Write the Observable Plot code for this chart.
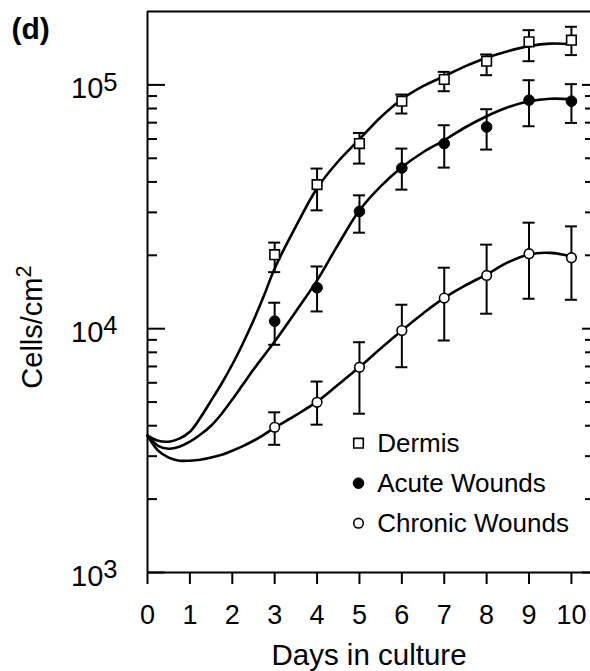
<!DOCTYPE html>
<html>
<head>
<meta charset="utf-8">
<script src="https://cdn.jsdelivr.net/npm/d3@7"></script>
<script src="https://cdn.jsdelivr.net/npm/@observablehq/plot@0.6"></script>
<style>
  html, body { margin: 0; padding: 0; background: #fff; }
  #chart svg { display: block; }
</style>
</head>
<body>
<div id="chart"></div>
<script>
// ---------- data ----------
const days = [3, 4, 5, 6, 7, 8, 9, 10];

const dermisMean = [20120, 38990, 57440, 85740, 105240, 125100, 150200, 152600];
const dermisLo   = [17060, 30580, 47560, 76300, 94200, 109600, 125100, 132500];
const dermisHi   = [22550, 45370, 63510, 91300, 113100, 133300, 167700, 173100];

const acuteMean = [10740, 14720, 30280, 45610, 57440, 67220, 86560, 85740];
const acuteLo   = [8590, 11770, 24760, 37190, 45790, 54290, 67670, 69820];
const acuteHi   = [12780, 18000, 35240, 54800, 68310, 79480, 104500, 100700];

const chronicMean = [3940, 4990, 6950, 9830, 13350, 16540, 20310, 19550];
const chronicLo   = [3340, 4040, 4480, 6950, 8945, 11520, 13270, 13140];
const chronicHi   = [4540, 6070, 8800, 12540, 17790, 22120, 27220, 26280];

// fitted curves
const curveDays = [0, 0.25, 0.5, 0.75, 1, 1.25, 1.5, 1.75, 2, 2.25, 2.5, 2.75, 3, 3.5, 4, 4.5, 5, 5.5, 6, 6.5, 7, 7.5, 8, 8.5, 9, 9.5, 10];
const dermisCurve  = [3640, 3470, 3440, 3540, 3780, 4320, 5070, 5960, 7130, 8700, 10800, 13700, 17670, 26280, 37660, 48620, 59840, 73700, 87360, 98790, 108560, 119340, 129320, 137540, 144200, 147700, 146990];
const acuteCurve   = [3640, 3310, 3220, 3280, 3440, 3680, 4000, 4480, 5120, 5900, 6800, 7760, 8860, 11770, 15780, 22180, 30580, 38370, 45920, 52920, 59280, 67030, 74390, 80970, 85720, 87780, 87360];
const chronicCurve = [3640, 3160, 2960, 2875, 2875, 2900, 2960, 3040, 3160, 3300, 3470, 3680, 3930, 4420, 5020, 5900, 6960, 8290, 9830, 11550, 13370, 15050, 16700, 18700, 20170, 20460, 19790];

const xTicks = [0, 1, 2, 3, 4, 5, 6, 7, 8, 9, 10];
const yMajor = [1e3, 1e4, 1e5];
const yMinorMultipliers = [2, 3, 4, 5, 6, 7, 8, 9];
const legendLabels = ["Dermis", "Acute Wounds", "Chronic Wounds"];
const xLabel = "Days in culture";
const yLabel = "Cells/cm^2";
const panelLabel = "(d)";

// ---------- tables ----------
const yMinor = [1e3, 1e4].flatMap(dec => yMinorMultipliers.map(m => m * dec));
const toPoints = (mean, lo, hi) => days.map((d, i) => ({day: d, mean: mean[i], lo: lo[i], hi: hi[i]}));
const dermis = toPoints(dermisMean, dermisLo, dermisHi);
const acute = toPoints(acuteMean, acuteLo, acuteHi);
const chronic = toPoints(chronicMean, chronicLo, chronicHi);
const toCurve = (vals) => curveDays.map((d, i) => ({day: d, v: vals[i]}));

const xDomain = [0, 10.45];
const yDomain = [1000, 200000];
const font = "'Liberation Sans', Arial, Helvetica, sans-serif";

const errorMarks = (data) => [
  Plot.ruleX(data, {x: "day", y1: "lo", y2: "hi", stroke: "black", strokeWidth: 2}),
  Plot.ruleY(data, {y: "hi", x1: "day", x2: "day", insetLeft: -6, insetRight: -6, stroke: "black", strokeWidth: 2}),
  Plot.ruleY(data, {y: "lo", x1: "day", x2: "day", insetLeft: -6, insetRight: -6, stroke: "black", strokeWidth: 2})
];

const legendStyles = [
  {symbol: "square", fill: "white", stroke: "black", r: 5.4, strokeWidth: 1.6},
  {symbol: "circle", fill: "black", stroke: "black", r: 5.3, strokeWidth: 1},
  {symbol: "circle", fill: "white", stroke: "black", r: 4.8, strokeWidth: 1.6}
];

const legendMarks = legendLabels.flatMap((label, i) => [
  Plot.dot([label], {frameAnchor: "top-left", dx: 211, dy: 431.7 + 40 * i, ...legendStyles[i]}),
  Plot.text([label], {text: d => d, frameAnchor: "top-left", dx: 229.7, dy: 431.7 + 40 * i,
    textAnchor: "start", lineAnchor: "middle", fontSize: 26, fill: "black"})
]);

const chart = Plot.plot({
  width: 590,
  height: 671,
  marginLeft: 147,
  marginRight: 0,
  marginTop: 11,
  marginBottom: 99,
  style: {fontFamily: font, background: "white", color: "black", overflow: "visible"},
  x: {domain: xDomain, label: null},
  y: {type: "log", domain: yDomain, label: null},
  marks: [
    // frame (left, bottom, top)
    Plot.ruleX([xDomain[0]], {stroke: "black", strokeWidth: 2}),
    Plot.ruleY([yDomain[0]], {stroke: "black", strokeWidth: 2}),
    Plot.ruleY([yDomain[1]], {stroke: "black", strokeWidth: 2}),
    // inward y ticks, left and right
    Plot.ruleY(yMajor, {y: d => d, x1: xDomain[0], x2: xDomain[0], insetRight: -18, stroke: "black", strokeWidth: 2}),
    Plot.ruleY(yMinor, {y: d => d, x1: xDomain[0], x2: xDomain[0], insetRight: -10, stroke: "black", strokeWidth: 2}),
    Plot.ruleY(yMajor, {y: d => d, x1: xDomain[1], x2: xDomain[1], insetLeft: -8, stroke: "black", strokeWidth: 2}),
    Plot.ruleY(yMinor, {y: d => d, x1: xDomain[1], x2: xDomain[1], insetLeft: -5, stroke: "black", strokeWidth: 2}),
    // axes
    Plot.axisX(xTicks, {tickSize: 12, tickPadding: 20, strokeWidth: 2, fontSize: 27, label: null, tickFormat: d => String(d)}),
    Plot.axisY(yMajor, {tickSize: 0, tickPadding: 30, fontSize: 29, dy: 4, label: null,
      tickFormat: d => "10^" + Math.round(Math.log10(d))}),
    // fitted curves
    Plot.line(toCurve(dermisCurve), {x: "day", y: "v", curve: "catmull-rom", stroke: "black", strokeWidth: 2.6}),
    Plot.line(toCurve(acuteCurve), {x: "day", y: "v", curve: "catmull-rom", stroke: "black", strokeWidth: 2.6}),
    Plot.line(toCurve(chronicCurve), {x: "day", y: "v", curve: "catmull-rom", stroke: "black", strokeWidth: 2.6}),
    // error bars
    ...errorMarks(dermis),
    ...errorMarks(acute),
    ...errorMarks(chronic),
    // points
    Plot.dot(dermis, {x: "day", y: "mean", ...legendStyles[0]}),
    Plot.dot(acute, {x: "day", y: "mean", ...legendStyles[1]}),
    Plot.dot(chronic, {x: "day", y: "mean", ...legendStyles[2]}),
    // legend
    ...legendMarks,
    // labels
    Plot.text([xLabel], {text: d => d, frameAnchor: "bottom", lineAnchor: "bottom", dy: 92, fontSize: 29.5, fill: "black"}),
    Plot.text([yLabel], {text: d => d, frameAnchor: "left", rotate: -90, dx: -114.6, dy: 35, lineAnchor: "middle", textAnchor: "middle", fontSize: 29, fill: "black"}),
    Plot.text([panelLabel], {text: d => d, frameAnchor: "top-left", dx: -136, dy: 27.5, textAnchor: "start", lineAnchor: "bottom", fontSize: 30, fontWeight: "bold", fill: "black"})
  ]
});

// superscripts: turn "base^exp" into base + raised tspan
d3.select(chart).selectAll("text").each(function () {
  const t = this.textContent;
  const m = t.match(/^(.*)\^(\w+)$/);
  if (!m) return;
  const sel = d3.select(this);
  sel.text(m[1]);
  const isLabel = m[1].startsWith("Cells");
  sel.append("tspan")
    .attr("dy", isLabel ? "-0.5em" : "-0.3em")
    .attr("font-size", isLabel ? "0.75em" : "0.88em")
    .text(m[2]);
});

document.getElementById("chart").appendChild(chart);
</script>
</body>
</html>
